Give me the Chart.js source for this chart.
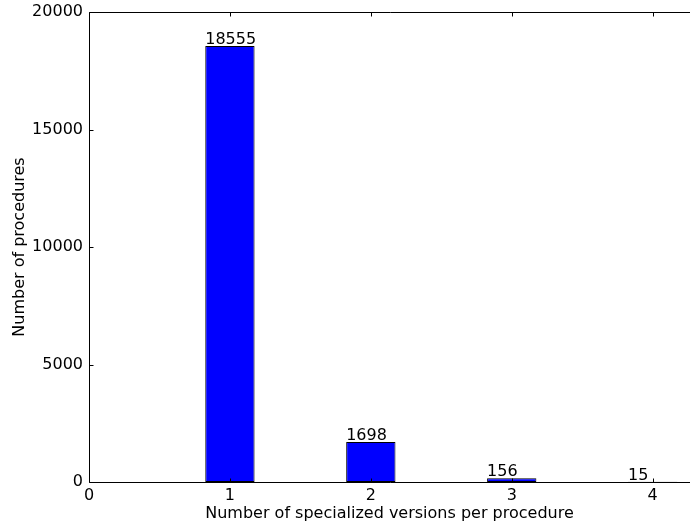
<!DOCTYPE html>
<html><head><meta charset="utf-8">
<script src="https://cdn.jsdelivr.net/npm/chart.js@4/dist/chart.umd.min.js"></script>
<style>html,body{margin:0;padding:0;background:#fff;}#wrap{width:690px;height:524px;}</style>
</head><body><div id="wrap"><canvas id="c" width="690" height="524"></canvas></div>
<script>
const categories = [1, 2, 3, 4];
const counts = [18555, 1698, 156, 15];
const xTicks = [0, 1, 2, 3, 4];
const yTicks = [0, 5000, 10000, 15000, 20000];
const xTitle = 'Number of specialized versions per procedure';
const yTitle = 'Number of procedures';

const FONT = 'DejaVu Sans';
const FS = 16;

const framePlugin = {
  id: 'frame',
  afterDraw(chart) {
    const {ctx, chartArea: a, scales: {x, y}} = chart;
    ctx.save();
    ctx.strokeStyle = '#000';
    ctx.lineWidth = 1;
    const L = Math.round(a.left) + 0.5, T = Math.round(a.top) + 0.5, B = Math.round(a.bottom) + 0.5, R = a.right + 2;
    ctx.beginPath();
    ctx.moveTo(R, T); ctx.lineTo(L, T); ctx.lineTo(L, B); ctx.lineTo(R, B);
    ctx.stroke();
    const tl = 4;
    ctx.beginPath();
    xTicks.forEach(v => {
      const px = Math.round(x.getPixelForValue(v)) + 0.5;
      ctx.moveTo(px, B); ctx.lineTo(px, B - tl);
      ctx.moveTo(px, T); ctx.lineTo(px, T + tl);
    });
    yTicks.forEach(v => {
      const py = Math.round(y.getPixelForValue(v)) + 0.5;
      ctx.moveTo(L, py); ctx.lineTo(L + tl, py);
    });
    ctx.stroke();
    ctx.restore();
  }
};

const labelPlugin = {
  id: 'barLabels',
  afterDatasetsDraw(chart) {
    const {ctx} = chart;
    const meta = chart.getDatasetMeta(0);
    ctx.save();
    ctx.fillStyle = '#000';
    ctx.font = FS + 'px "' + FONT + '"';
    ctx.textAlign = 'left';
    ctx.textBaseline = 'alphabetic';
    meta.data.forEach((bar, i) => {
      const p = bar.getProps(['x', 'y', 'width'], true);
      ctx.fillText(String(counts[i]), p.x - p.width / 2, p.y - 2);
    });
    ctx.restore();
  }
};

new Chart(document.getElementById('c'), {
  type: 'bar',
  data: {
    datasets: [{
      data: categories.map((c, i) => ({x: c, y: counts[i]})),
      backgroundColor: '#0000ff',
      borderColor: '#000',
      borderWidth: 1,
      borderSkipped: false,
      categoryPercentage: 1,
      barPercentage: 0.35
    }]
  },
  options: {
    responsive: false,
    devicePixelRatio: 1,
    animation: false,
    layout: {padding: {top: 12, right: 0, left: 0, bottom: 0}},
    plugins: {legend: {display: false}, tooltip: {enabled: false}},
    scales: {
      x: {
        type: 'linear',
        min: 0,
        max: 4.265,
        offset: false,
        grid: {display: false, drawTicks: false},
        border: {display: false},
        afterBuildTicks: s => { s.ticks = xTicks.map(v => ({value: v})); },
        afterFit: s => { s.height = 42; s.paddingLeft = 0; s.paddingRight = 0; },
        ticks: {color: '#000', font: {family: FONT, size: FS}, padding: 4, maxRotation: 0, autoSkip: false},
        title: {display: true, text: xTitle, color: '#000', font: {family: FONT, size: FS}, padding: {top: 0, bottom: 1}}
      },
      y: {
        min: 0,
        max: 20000,
        grid: {display: false, drawTicks: false},
        border: {display: false},
        afterBuildTicks: s => { s.ticks = yTicks.map(v => ({value: v})); },
        afterFit: s => { s.width = 89; s.paddingTop = 0; s.paddingBottom = 0; },
        ticks: {color: '#000', font: {family: FONT, size: FS}, padding: 6, callback: v => String(v)},
        title: {display: true, text: yTitle, color: '#000', font: {family: FONT, size: FS}, padding: {top: 10, bottom: 0}}
      }
    }
  },
  plugins: [framePlugin, labelPlugin]
});
</script>
</body></html>
